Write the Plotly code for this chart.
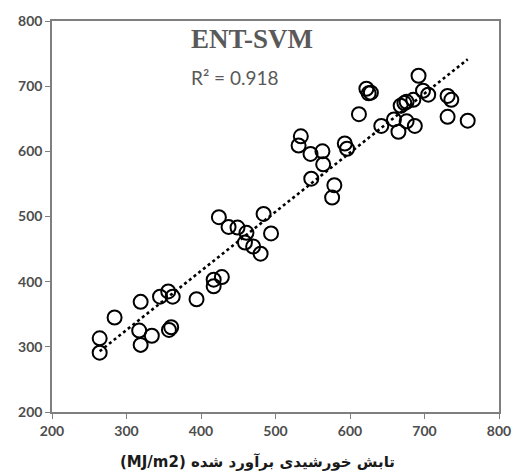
import numpy as np
import plotly.graph_objects as go

# Estimated (x) vs observed (y) solar radiation, MJ/m2
est = [264, 264, 284, 319, 317, 319, 334, 345, 356, 362, 357, 360, 394, 417, 417, 428,
       424, 437, 449, 461, 459, 470, 480, 484, 494, 548, 564, 579, 576, 534, 531, 547,
       563, 593, 596, 612, 622, 625, 628, 642, 659, 665, 668, 673, 676, 676, 687, 685,
       692, 698, 705, 731, 736, 731, 758]
obs = [313, 291, 345, 369, 325, 303, 317, 377, 385, 377, 326, 330, 373, 403, 393, 407,
       499, 484, 483, 475, 460, 454, 443, 504, 474, 558, 580, 548, 529, 623, 609, 596,
       600, 612, 604, 657, 696, 689, 690, 639, 649, 630, 670, 674, 676, 646, 639, 679,
       716, 693, 687, 685, 679, 653, 647]

ticks = [200, 300, 400, 500, 600, 700, 800]
title_text = "ENT-SVM"
r2_text = "R² = 0.918"
x_title = "\u200e(MJ/m2)\u200e تابش خورشیدی برآورد شده"

slope, intercept = np.polyfit(est, obs, 1)
tx = np.array([min(est), max(est)])
ty = slope * tx + intercept

fig = go.Figure()
fig.add_trace(go.Scatter(x=tx, y=ty, mode="lines",
                         line=dict(color="black", width=2.6, dash="dot"),
                         hoverinfo="skip", showlegend=False))
fig.add_trace(go.Scatter(x=est, y=obs, mode="markers",
                         marker=dict(symbol="circle-open", size=14,
                                     line=dict(color="black", width=2.0), color="black"),
                         showlegend=False))

axis_common = dict(range=[200, 800], tickvals=ticks, ticktext=[str(t) for t in ticks],
                   showgrid=False, zeroline=False, showline=True, linecolor="#7f7f7f",
                   linewidth=1.5, mirror=True, ticks="outside", ticklen=5,
                   tickcolor="#7f7f7f", tickwidth=1.2,
                   tickfont=dict(family="Lato", size=14, color="#4d4d4d", weight="bold"))
fig.update_xaxes(**axis_common)
fig.update_yaxes(**axis_common)

fig.add_annotation(x=0.4465, y=0.953, xref="paper", yref="paper", text=title_text,
                   showarrow=False, xanchor="center", yanchor="middle",
                   font=dict(family="Liberation Serif", size=27, color="#595959", weight="bold"))
fig.add_annotation(x=0.409, y=0.855, xref="paper", yref="paper", text=r2_text,
                   showarrow=False, xanchor="center", yanchor="middle",
                   font=dict(family="Lato", size=19, color="#595959"))
fig.add_annotation(x=0.46, y=-0.127, xref="paper", yref="paper", text=x_title,
                   showarrow=False, xanchor="center", yanchor="middle",
                   font=dict(family="DejaVu Sans", size=15, color="#1a1a1a", weight="bold"))

fig.update_layout(width=523, height=474, margin=dict(l=52, r=16, t=19, b=62),
                  paper_bgcolor="white", plot_bgcolor="white")
fig.write_html("out.html")
